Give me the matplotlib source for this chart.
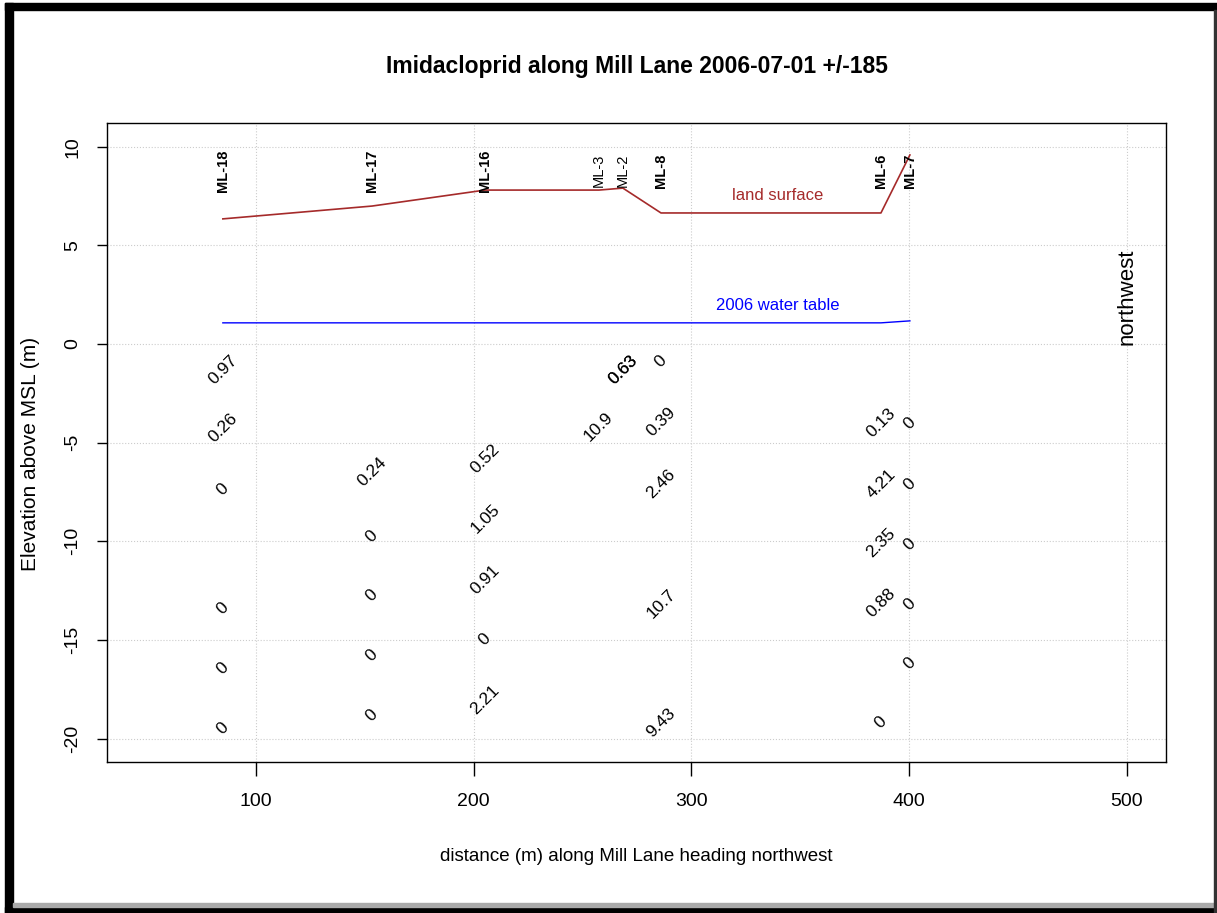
import matplotlib
matplotlib.use("Agg")
import matplotlib.pyplot as plt
from matplotlib.patches import Rectangle

plt.rcParams['font.family'] = ['Liberation Sans', 'DejaVu Sans']
plt.rcParams['axes.unicode_minus'] = False

# wells along the lane
wells = ['ML-18', 'ML-17', 'ML-16', 'ML-3', 'ML-2', 'ML-8', 'ML-6', 'ML-7']
well_x = [84.8, 153.3, 205.2, 257.5, 268.5, 286.0, 387.0, 400.3]
well_bold = [True, True, True, False, False, True, True, True]
land_surface = [6.34, 6.99, 7.8, 7.8, 7.9, 6.64, 6.64, 9.58]
water_table = [1.07, 1.07, 1.07, 1.07, 1.07, 1.07, 1.07, 1.17]

# sample results (well, elevation, concentration label)
sample_well = ['ML-18'] * 6 + ['ML-17'] * 5 + ['ML-16'] * 5 + ['ML-3'] + ['ML-2'] * 2 \
    + ['ML-8'] * 5 + ['ML-6'] * 5 + ['ML-7'] * 5
sample_elev = [-1.3, -4.25, -7.35, -13.4, -16.45, -19.5,
               -6.5, -9.75, -12.75, -15.8, -18.85,
               -5.8, -8.85, -11.95, -15.0, -18.05,
               -4.2,
               -1.3, -1.3,
               -0.9, -3.95, -7.1, -13.15, -19.2,
               -4.0, -7.1, -10.1, -13.15, -19.2,
               -4.05, -7.1, -10.15, -13.2, -16.2]
sample_conc = ['0.97', '0.26', '0', '0', '0', '0',
               '0.24', '0', '0', '0', '0',
               '0.52', '1.05', '0.91', '0', '2.21',
               '10.9',
               '0.63', '0.63',
               '0', '0.39', '2.46', '10.7', '9.43',
               '0.13', '4.21', '2.35', '0.88', '0',
               '0', '0', '0', '0', '0']

x_ticks = [100, 200, 300, 400, 500]
y_ticks = [-20, -15, -10, -5, 0, 5, 10]

fig = plt.figure(figsize=(12.17, 9.13), dpi=100)
ax = fig.add_axes([107 / 1217, 1 - 762 / 913, (1166 - 107) / 1217, (762 - 123) / 913])

ax.plot(well_x, land_surface, color='#A52A2A', lw=1.2)
ax.plot(well_x, water_table, color='blue', lw=1.0)
ax.text(339.7, 7.5, 'land surface', color='#A52A2A', fontsize=12, ha='center', va='center')
ax.text(339.7, 1.95, '2006 water table', color='blue', fontsize=12, ha='center', va='center')

for name, x, bold in zip(wells, well_x, well_bold):
    ax.text(x, 8.8, name, rotation=90, ha='center', va='center', fontsize=10.5,
            fontweight='bold' if bold else 'normal')

well_pos = dict(zip(wells, well_x))
for w, y, c in zip(sample_well, sample_elev, sample_conc):
    ax.text(well_pos[w], y, c, rotation=45, rotation_mode='anchor',
            ha='center', va='center', fontsize=12.5)

ax.text(500, 2.4, 'northwest', rotation=90, ha='center', va='center', fontsize=16)

ax.set_xlim(31.6, 517.9)
ax.set_ylim(-21.19, 11.2)
ax.set_xticks(x_ticks)
ax.set_yticks(y_ticks)
ax.grid(True, color='#cccccc', linestyle=':', linewidth=0.8)
ax.tick_params(axis='x', direction='out', length=10, width=1, pad=12, labelsize=14)
ax.tick_params(axis='y', direction='out', length=7.5, width=1, pad=11, labelsize=14,
               labelrotation=90)
for lab in ax.get_yticklabels():
    lab.set_va('center')
for sp in ax.spines.values():
    sp.set_linewidth(1.0)

ax.set_xlabel('distance (m) along Mill Lane heading northwest', fontsize=13.5, labelpad=28)
ax.set_ylabel('Elevation above MSL (m)', fontsize=15)
ax.yaxis.set_label_coords(-0.063, 0.482)
fig.text(637 / 1217, 1 - 67 / 913, 'Imidacloprid along Mill Lane 2006-07-01 +/-185',
         ha='center', va='center', fontsize=16.5, fontweight='bold')

# window frame around the picture
fig.patches.append(Rectangle((5 / 1217, 0), 8 / 1217, 1 - 3 / 913,
                             transform=fig.transFigure, color='black'))
fig.patches.append(Rectangle((5 / 1217, 1 - 10 / 913), 1 - 5 / 1217, 7 / 913,
                             transform=fig.transFigure, color='black'))
fig.patches.append(Rectangle((5 / 1217, 0), 1 - 5 / 1217, 6 / 913,
                             transform=fig.transFigure, color='black'))
fig.patches.append(Rectangle((13 / 1217, 6 / 913), 1 - 15 / 1217, 4 / 913,
                             transform=fig.transFigure, color='#aaaaaa'))
fig.patches.append(Rectangle((1214 / 1217, 0), 2 / 1217, 1 - 10 / 913,
                             transform=fig.transFigure, color='#333333'))

fig.savefig('out.png', dpi=100)
